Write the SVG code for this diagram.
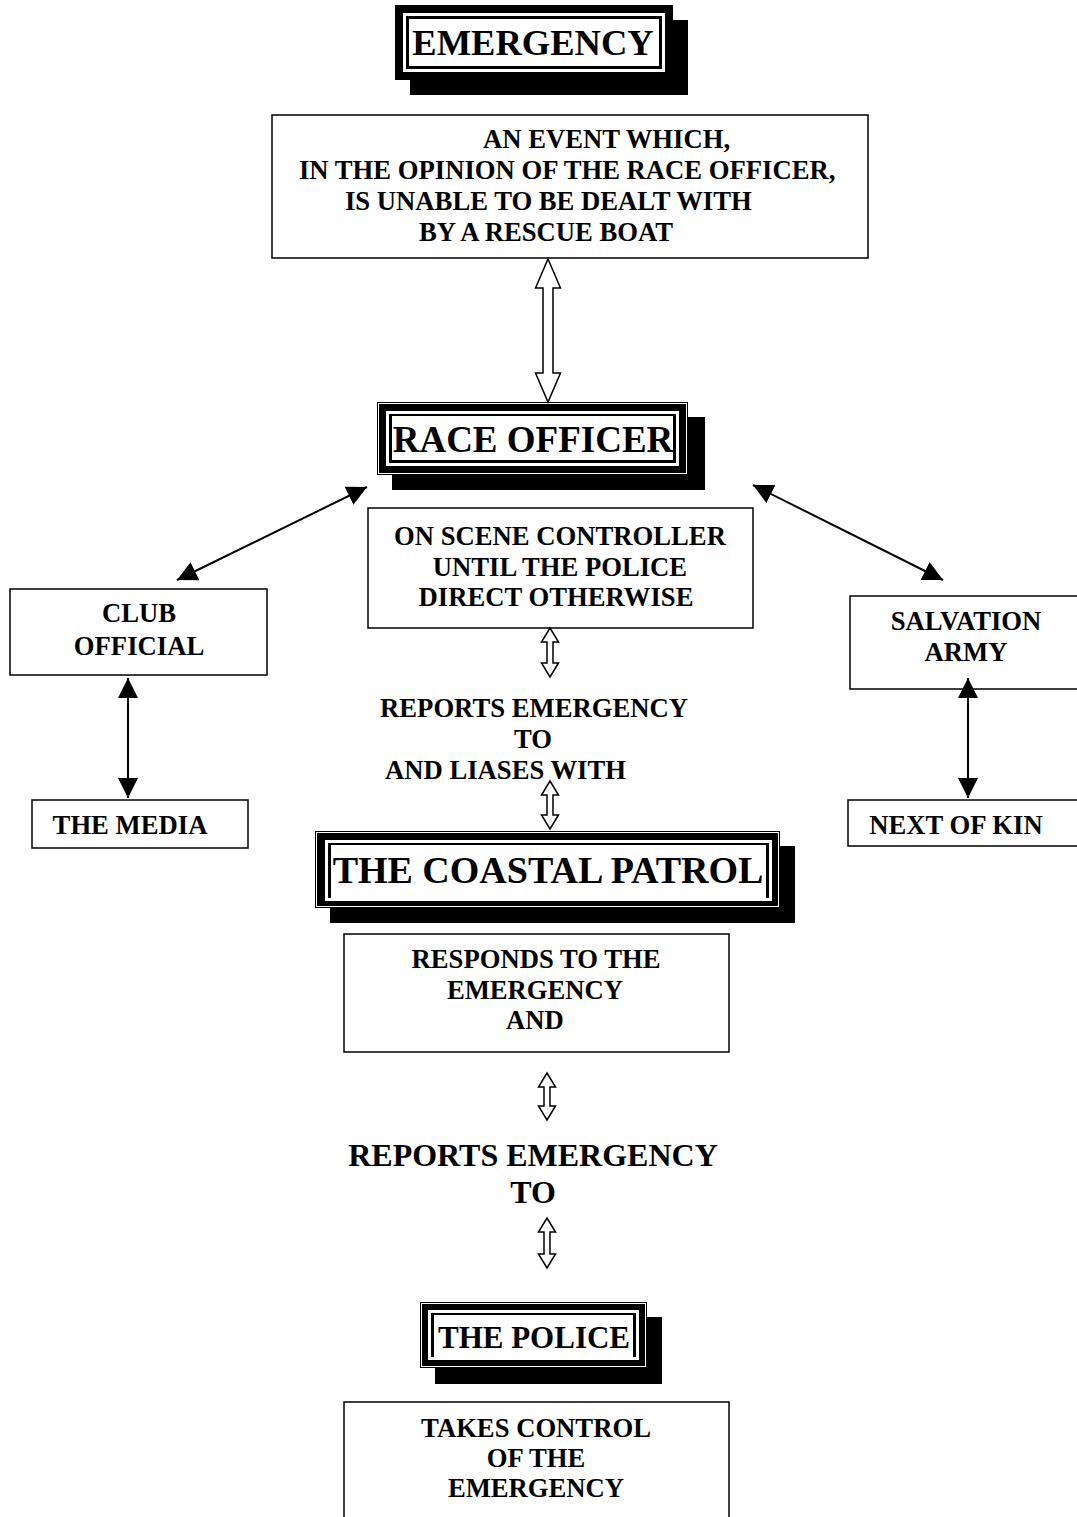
<svg xmlns="http://www.w3.org/2000/svg" width="1077" height="1517" viewBox="0 0 1077 1517">
<defs>
<style>
text{font-family:"Liberation Serif","Times New Roman",serif;font-weight:bold;fill:#000}
.t{font-size:26.67px;text-anchor:middle}
.tl{font-size:26.67px}
.big{font-size:32px;text-anchor:middle}
.box{fill:#fff;stroke:#000;stroke-width:1.5}
.shadow{fill:#000}
.outer{fill:#000}
.gap{fill:none;stroke:#fff;stroke-width:1}
.line{fill:none;stroke:#fff;stroke-width:3}
.inner{fill:#fff}
.conn{stroke:#000;stroke-width:2;fill:none}
.hollow{fill:#fff;stroke:#000;stroke-width:1.5;stroke-linejoin:miter}
</style>
<marker id="tri" markerUnits="userSpaceOnUse" markerWidth="22" markerHeight="22" refX="20" refY="10" orient="auto-start-reverse">
<path d="M0,0 L20,10 L0,20 Z" fill="#000"/>
</marker>
</defs>
<rect width="1077" height="1517" fill="#fff"/>

<g id="emergency">
<rect class="shadow" x="410" y="20" width="278" height="75"/>
<rect class="outer" x="395" y="5" width="278" height="75"/>
<rect class="line" x="404.5" y="14.5" width="259" height="56"/>
<rect class="inner" x="409" y="19" width="250" height="47"/>
<text x="533" y="55" font-size="36.5" text-anchor="middle">EMERGENCY</text>
</g>

<g id="event">
<rect class="box" x="272" y="115" width="596" height="143"/>
<text class="tl" x="483" y="148">AN EVENT WHICH,</text>
<text class="tl" x="299" y="179">IN THE OPINION OF THE RACE OFFICER,</text>
<text class="tl" x="345" y="210">IS UNABLE TO BE DEALT WITH</text>
<text class="tl" x="419" y="241">BY A RESCUE BOAT</text>
</g>

<g id="race-officer">
<rect class="shadow" x="392" y="417" width="313" height="73"/>
<rect class="outer" x="377" y="402" width="311" height="73"/>
<rect class="gap" x="378.5" y="403.5" width="308" height="70"/>
<rect class="line" x="387.5" y="412.5" width="290" height="52"/>
<rect class="inner" x="392" y="416" width="281" height="44"/>
<text x="533" y="452" font-size="37" text-anchor="middle">RACE OFFICER</text>
</g>

<g id="on-scene">
<rect class="box" x="368" y="508" width="385" height="120"/>
<text class="t" x="560" y="545">ON SCENE CONTROLLER</text>
<text class="t" x="560" y="576">UNTIL THE POLICE</text>
<text class="t" x="556" y="606">DIRECT OTHERWISE</text>
</g>

<g id="club-official">
<rect class="box" x="10" y="589" width="257" height="86"/>
<text class="t" x="139" y="622">CLUB</text>
<text class="t" x="139" y="655">OFFICIAL</text>
</g>

<g id="salvation-army">
<rect class="box" x="850" y="596" width="240" height="93"/>
<text class="t" x="966" y="630">SALVATION</text>
<text class="t" x="966" y="661">ARMY</text>
</g>

<g id="media">
<rect class="box" x="32" y="800" width="216" height="48"/>
<text class="t" x="130" y="834">THE MEDIA</text>
</g>

<g id="next-of-kin">
<rect class="box" x="848" y="800" width="240" height="46"/>
<text class="t" x="956" y="834">NEXT OF KIN</text>
</g>

<g id="reports-1">
<text class="t" x="534" y="717">REPORTS EMERGENCY</text>
<text class="t" x="533" y="748">TO</text>
<text class="tl" x="385" y="779">AND LIASES WITH</text>
</g>

<g id="coastal-patrol">
<rect class="shadow" x="330" y="846" width="465" height="77"/>
<rect class="outer" x="315" y="831" width="465" height="77"/>
<rect class="gap" x="316.5" y="832.5" width="462" height="74"/>
<rect class="line" x="326.5" y="841.5" width="444" height="58"/>
<rect class="inner" x="331" y="845" width="435" height="53"/>
<text x="548" y="883" font-size="38" text-anchor="middle">THE COASTAL PATROL</text>
</g>

<g id="responds">
<rect class="box" x="344" y="934" width="385" height="118"/>
<text class="t" x="536" y="968">RESPONDS TO THE</text>
<text class="t" x="535" y="999">EMERGENCY</text>
<text class="t" x="535" y="1029">AND</text>
</g>

<g id="reports-2">
<text class="big" x="533" y="1166">REPORTS EMERGENCY</text>
<text class="big" x="533" y="1203">TO</text>
</g>

<g id="police">
<rect class="shadow" x="435" y="1317" width="227" height="67"/>
<rect class="outer" x="420" y="1302" width="227" height="66"/>
<rect class="gap" x="421.5" y="1303.5" width="224" height="63"/>
<rect class="line" x="429.5" y="1311.5" width="208" height="47"/>
<rect class="inner" x="434" y="1315" width="199" height="42"/>
<text x="534" y="1348" font-size="31" text-anchor="middle">THE POLICE</text>
</g>

<g id="takes-control">
<rect class="box" x="344" y="1402" width="385" height="200"/>
<text class="t" x="536" y="1437">TAKES CONTROL</text>
<text class="t" x="536" y="1467">OF THE</text>
<text class="t" x="536" y="1497">EMERGENCY</text>
</g>

<g id="connectors">
<path class="hollow" d="M548,259 L560.5,288 L553,288 L553,373 L560.5,373 L548,402 L535.5,373 L543,373 L543,288 L535.5,288 Z"/>
<path class="hollow" d="M550,628 L558.5,642 L553,642 L553,663 L558.5,663 L550,677 L541.5,663 L547,663 L547,642 L541.5,642 Z"/>
<path class="hollow" d="M550,781 L558.5,795 L553,795 L553,815 L558.5,815 L550,829 L541.5,815 L547,815 L547,795 L541.5,795 Z"/>
<path class="hollow" d="M547,1073 L555.5,1087 L550,1087 L550,1106 L555.5,1106 L547,1120 L538.5,1106 L544,1106 L544,1087 L538.5,1087 Z"/>
<path class="hollow" d="M547,1218 L555.5,1232 L550,1232 L550,1254 L555.5,1254 L547,1268 L538.5,1254 L544,1254 L544,1232 L538.5,1232 Z"/>
<line class="conn" x1="177" y1="580" x2="367" y2="487" marker-start="url(#tri)" marker-end="url(#tri)"/>
<line class="conn" x1="753" y1="485" x2="943" y2="580" marker-start="url(#tri)" marker-end="url(#tri)"/>
<line class="conn" x1="128" y1="678" x2="128" y2="798" marker-start="url(#tri)" marker-end="url(#tri)"/>
<line class="conn" x1="968" y1="678" x2="968" y2="798" marker-start="url(#tri)" marker-end="url(#tri)"/>
</g>
</svg>
